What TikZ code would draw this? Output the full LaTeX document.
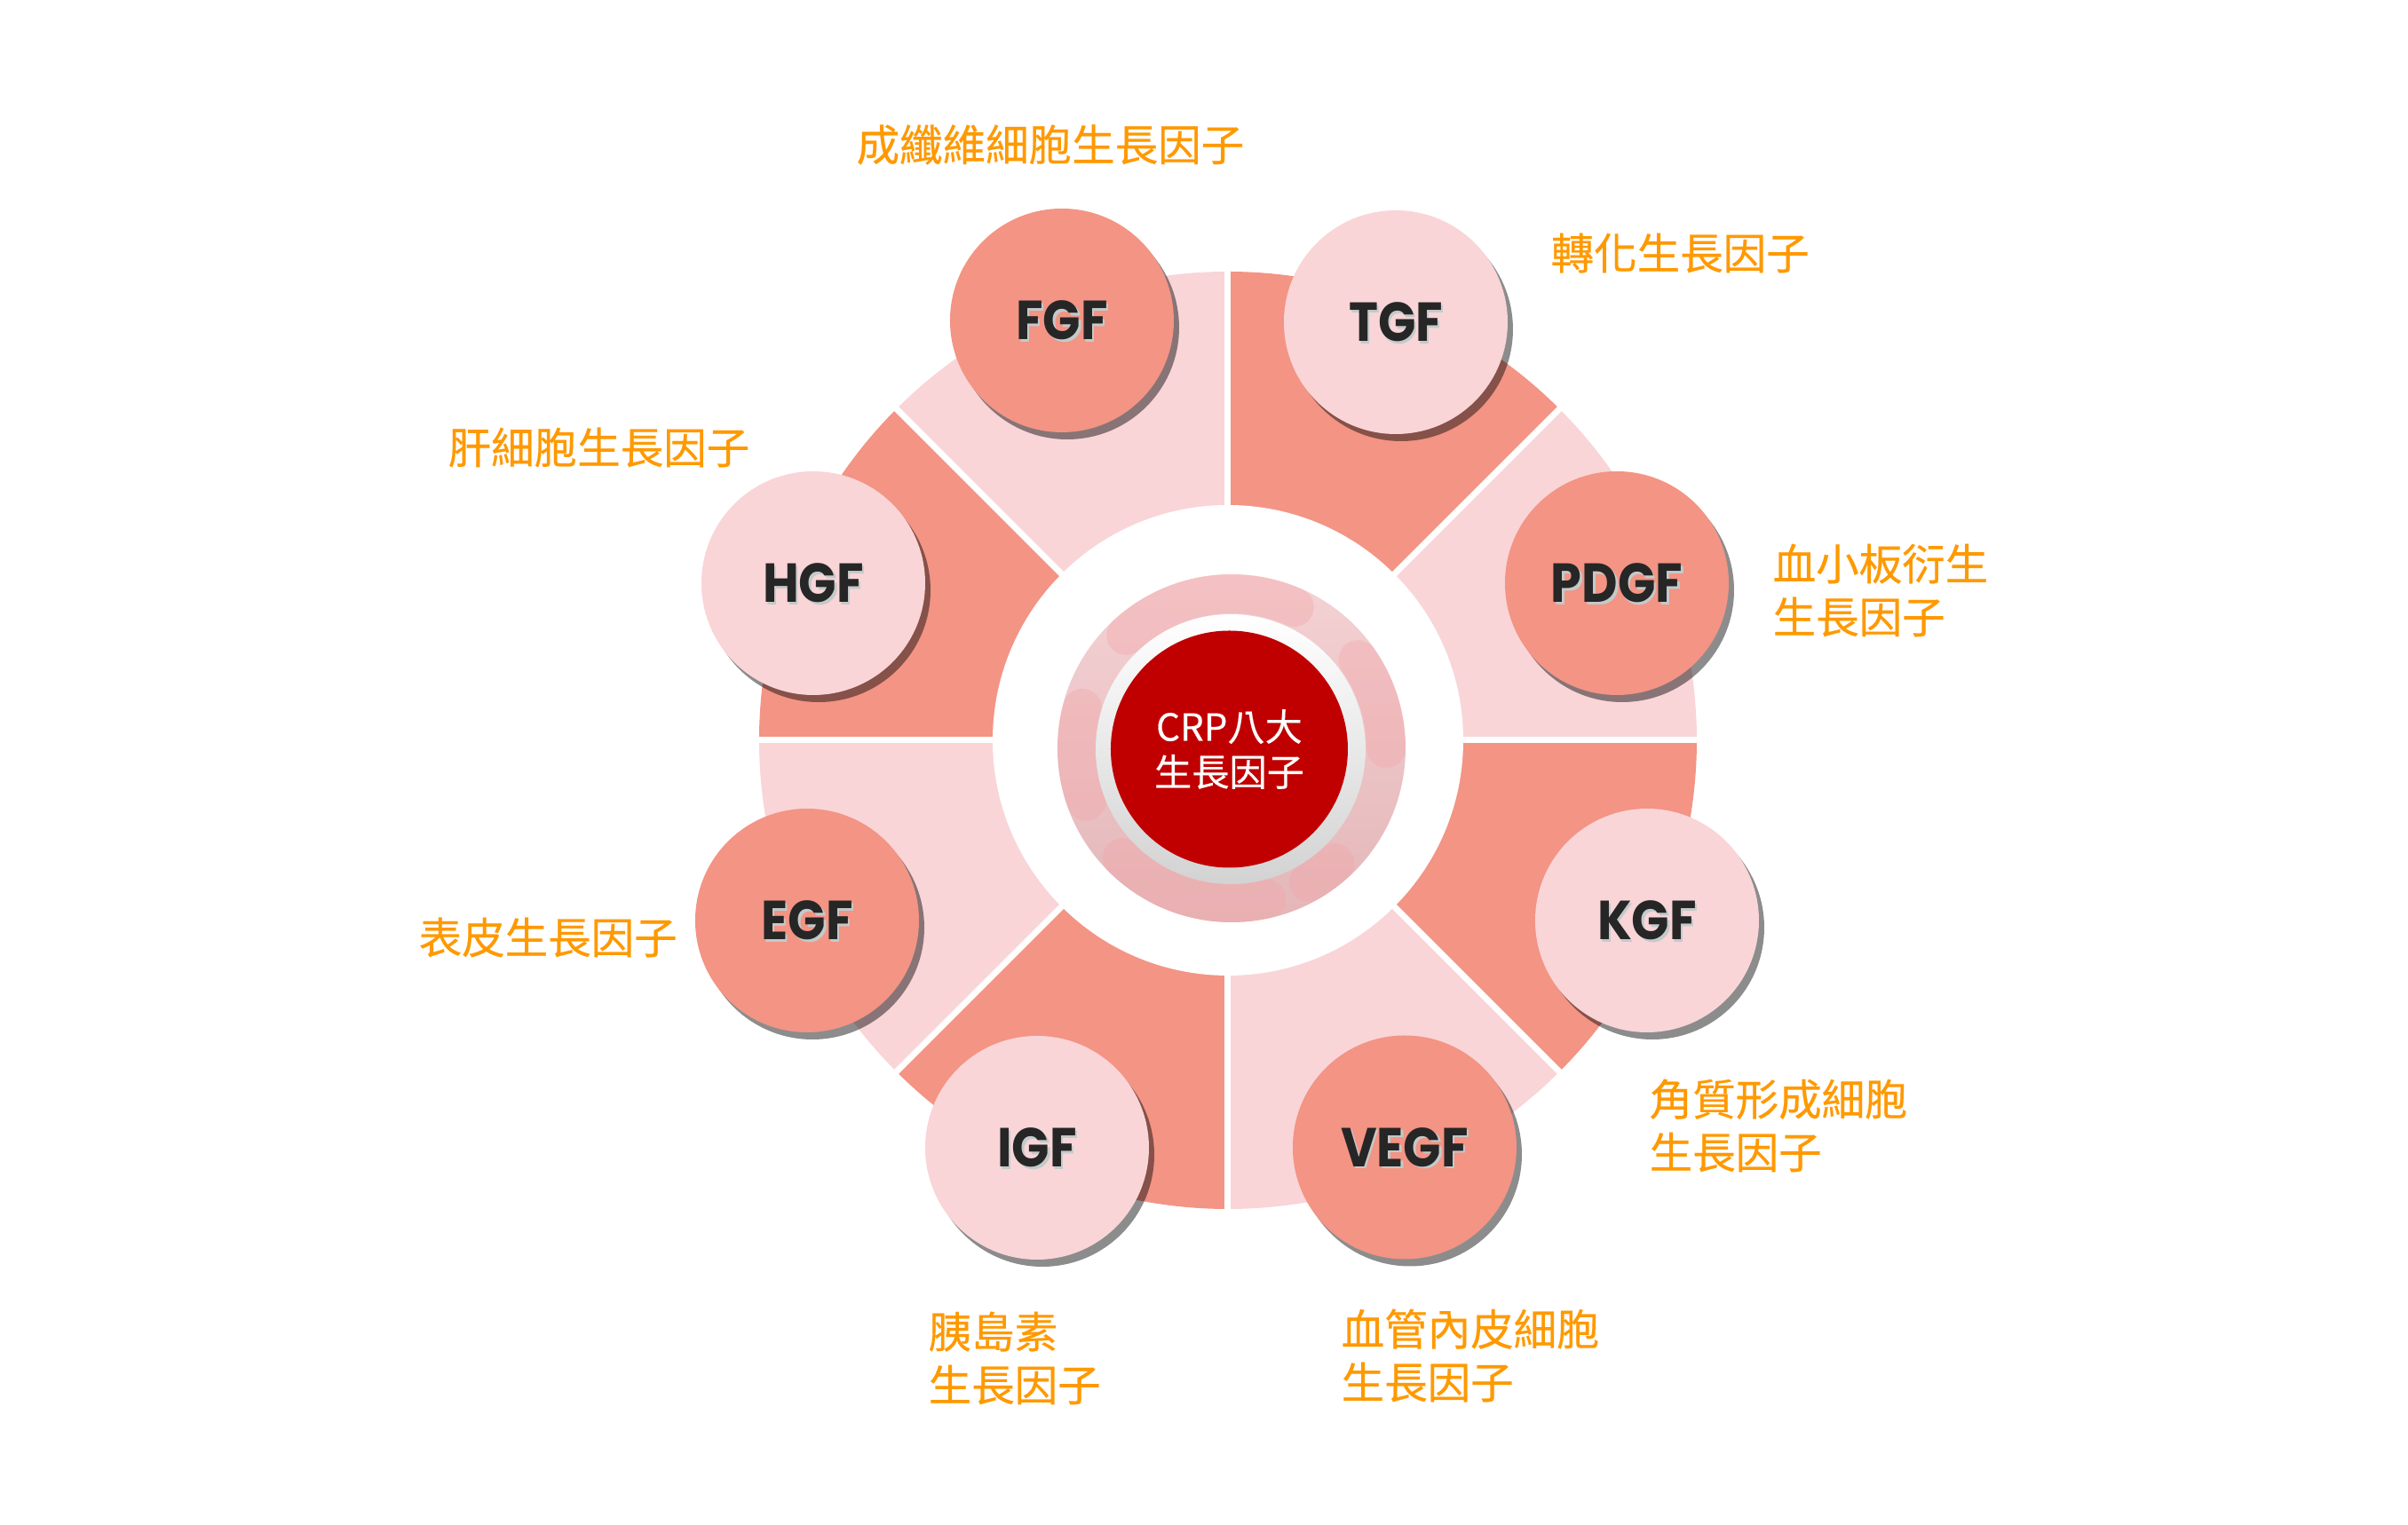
\documentclass[tikz,border=0pt]{standalone}
\usepackage{fontspec}
\usetikzlibrary{shadows}
\newfontfamily\cjkfont{Noto Sans CJK TC}[FakeBold=0.4]
\newfontfamily\corefont{Noto Sans CJK TC}[FakeBold=0.3]
\newfontfamily\badgefont{Poppins}[FakeStretch=0.9]
\definecolor{segdark}{HTML}{F39484}
\definecolor{seglight}{HTML}{F9D5D8}
\definecolor{labelorange}{HTML}{FF9900}
\definecolor{corered}{HTML}{C00000}
\definecolor{ringtop}{HTML}{F4D2D4}
\definecolor{ringbottom}{HTML}{E4B6B8}
\definecolor{blobpink}{HTML}{F4A3A6}
\definecolor{badgeink}{HTML}{262626}
\definecolor{inkshade}{HTML}{C3CACA}
\tikzset{
  badge/.style={circle, minimum size=2.52cm, inner sep=0pt,
    drop shadow={shadow xshift=0.06cm, shadow yshift=-0.08cm, fill=black, opacity=0.45}},
  badgetext/.style={font=\badgefont\bfseries\fontsize{17.6}{17.6}\selectfont, text=badgeink, inner sep=0pt},
  badgeshade/.style={badgetext, text=inkshade},
  labeltext/.style={font=\cjkfont\fontsize{13.8}{17}\selectfont, text=labelorange,
    anchor=west, align=left, inner sep=0pt},
  core/.style={circle, fill=corered, minimum size=2.67cm, inner sep=0pt, text=white,
    align=center, font=\corefont\fontsize{12}{14.5}\selectfont}
}
\begin{document}
\begin{tikzpicture}
\useasboundingbox (-13.83,-8.84) rectangle (13.29,8.34);
% eight sectors
\foreach \a/\c in {0/seglight,45/segdark,90/seglight,135/segdark,180/seglight,225/segdark,270/seglight,315/segdark} {
  \fill[\c] (0,0) -- (\a:5.28) arc (\a:\a+45:5.28) -- cycle;
}
\foreach \a in {0,45,...,315} {
  \draw[white, line width=0.07cm] (0,0) -- (\a:5.4);
}
\fill[white] (0,0) circle (2.65);
% growth factor badges
\foreach \nm/\x/\y/\c in {FGF/-1.87/4.73/segdark, TGF/1.89/4.71/seglight,
    PDGF/4.38/1.77/segdark, KGF/4.72/-2.03/seglight, VEGF/1.99/-4.585/segdark,
    IGF/-2.15/-4.59/seglight, EGF/-4.74/-2.03/segdark, HGF/-4.67/1.77/seglight} {
  \node[badge, fill=\c] (\nm) at (\x,\y) {};
  \node[badgeshade] (\nm-s) at ([shift={(0.025,-0.025)}]\nm) {\nm};
  \node[badgetext] (\nm-t) at (\nm) {\nm};
}
% labels
\foreach \nm/\x/\y/\txt in {fgf/-4.19/6.71/成纖維細胞生長因子, tgf/3.63/5.49/轉化生長因子,
    pdgf/6.13/1.69/{血小板衍生\\生長因子}, kgf/4.74/-4.34/{角質形成細胞\\生長因子},
    vegf/1.27/-6.93/{血管內皮細胞\\生長因子}, igf/-3.38/-6.96/{胰島素\\生長因子},
    egf/-9.12/-2.22/表皮生長因子, hgf/-8.79/3.30/肝細胞生長因子} {
  \node[labeltext] (\nm-l) at (\x,\y) {\txt};
}
% centre
\shade[top color=ringtop, bottom color=ringbottom] (0.04,-0.09) circle (1.96);
\foreach \s/\e in {66/133, 165/200, 225/283, 300/312, 0/35} {
  \draw[blobpink, line width=0.44cm, line cap=round, opacity=0.35]
    ([shift={(0.04,-0.09)}]\s:1.74) arc (\s:\e:1.74);
}
\shade[top color=white, bottom color=gray!35] (0.03,-0.10) circle (1.52);
\node[core] (core) at (0.015,-0.10) {CRP八大\\生長因子};
\end{tikzpicture}
\end{document}
